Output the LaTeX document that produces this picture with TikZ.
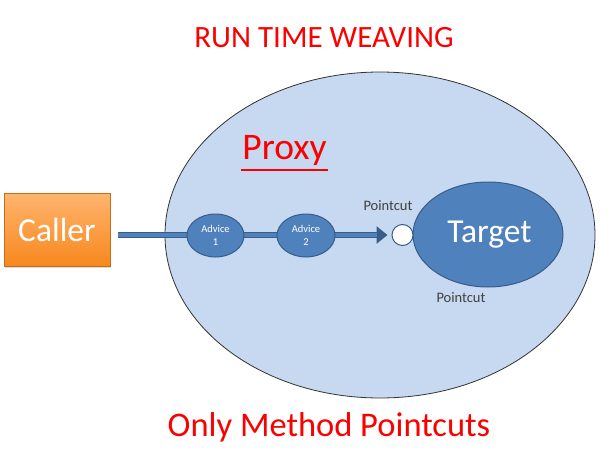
\documentclass[tikz,border=0pt]{standalone}
\usepackage{fontspec}
\setmainfont{Carlito}
\usetikzlibrary{shapes.geometric,arrows.meta,shadows}
\definecolor{proxyfill}{RGB}{198,217,240}
\definecolor{nodeblue}{RGB}{79,129,189}
\definecolor{nodeedge}{RGB}{56,93,138}
\definecolor{orangeA}{RGB}{255,180,110}
\definecolor{orangeB}{RGB}{247,136,30}
\definecolor{titlered}{RGB}{250,0,0}
\begin{document}
\begin{tikzpicture}[x=1pt,y=-1pt,
  bluenode/.style={ellipse,draw=nodeedge,line width=1pt,fill=nodeblue,text=white,inner sep=0pt},
  redtext/.style={text=titlered,inner sep=0pt},
  smalltext/.style={text=black!75,font=\fontsize{14.5}{16}\selectfont,inner sep=0pt}]
\useasboundingbox (0,0) rectangle (608,455);
\node[redtext,font=\fontsize{31}{34}\selectfont] (title) at (324,38) {RUN TIME WEAVING};
\node[ellipse,draw=black!80,line width=0.8pt,fill=proxyfill,minimum width=430,minimum height=326,inner sep=0pt] (proxy) at (380,235) {};
\node[redtext,font=\fontsize{37.5}{40}\selectfont,anchor=base] (proxylbl) at (284.5,159) {Proxy};
\draw[titlered,line width=2pt] ([xshift=-1pt,yshift=-10.5pt]proxylbl.base west) -- ([xshift=1pt,yshift=-10.5pt]proxylbl.base east);
\node[draw=orangeB!80!black,line width=0.4pt,top color=orangeA,bottom color=orangeB,minimum width=106,minimum height=73,inner sep=0pt,text=white,font=\fontsize{33.5}{36}\selectfont,drop shadow={opacity=0.3,shadow xshift=1pt,shadow yshift=-1.5pt}] (caller) at (57,229.5) {Caller};
\node[bluenode,minimum width=150,minimum height=105,font=\fontsize{33.5}{36}\selectfont] (target) at (488,234.5) {\hspace*{3pt}Target};
\node[circle,draw=nodeedge,line width=1pt,fill=white,minimum size=21,inner sep=0pt] (pc) at (402.5,235) {};
\coordinate (start) at (118,235);
\draw[nodeedge,line width=6pt,-{Triangle[length=11pt,width=17pt]}] (start) -- ([xshift=-4pt]pc.west);
\draw[nodeblue,line width=4pt,shorten >=3pt] (start) -- ([xshift=-12pt]pc.west);
\node[bluenode,minimum width=57,minimum height=43,font=\fontsize{10.5}{13}\selectfont,align=center] (adv1) at (215.5,235.5) {Advice\\1};
\node[bluenode,minimum width=58,minimum height=43,font=\fontsize{10.5}{13}\selectfont,align=center] (adv2) at (306,235.5) {Advice\\2};
\node[smalltext] (pc1) at (388,206) {Pointcut};
\node[smalltext] (pc2) at (461,298) {Pointcut};
\node[redtext,font=\fontsize{34.5}{38}\selectfont] (foot) at (329,427) {Only Method Pointcuts};
\end{tikzpicture}
\end{document}
